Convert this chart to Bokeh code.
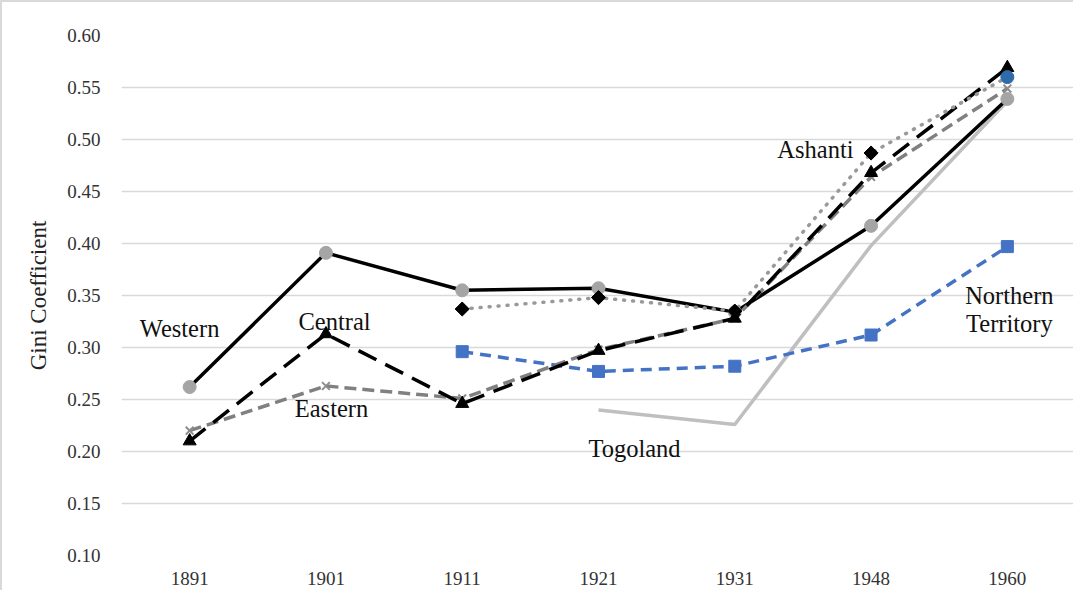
import math
from bokeh.plotting import figure
from bokeh.models import FactorRange, Range1d, FixedTicker, NumeralTickFormatter, Label
from bokeh.embed import file_html
from bokeh.resources import INLINE

years = ["1891", "1901", "1911", "1921", "1931", "1948", "1960"]
western = [0.262, 0.391, 0.355, 0.357, 0.334, 0.417, 0.539]
central = [0.210, 0.313, 0.246, 0.297, 0.328, 0.468, 0.569]
eastern = [0.220, 0.263, 0.251, 0.298, 0.328, 0.464, 0.549]
ashanti_years = ["1911", "1921", "1931", "1948", "1960"]
ashanti = [0.337, 0.348, 0.335, 0.487, 0.560]
northern_years = ["1911", "1921", "1931", "1948", "1960"]
northern = [0.296, 0.277, 0.282, 0.312, 0.397]
togoland_years = ["1921", "1931", "1948", "1960"]
togoland = [0.240, 0.226, 0.398, 0.537]
y_ticks = [0.10, 0.15, 0.20, 0.25, 0.30, 0.35, 0.40, 0.45, 0.50, 0.55, 0.60]

FONT = "Liberation Serif"

p = figure(x_range=FactorRange(*years), y_range=Range1d(0.10, 0.60),
           width=1073, height=590, output_backend="svg", toolbar_location=None,
           min_border_left=119, min_border_right=0, min_border_top=33, min_border_bottom=37)
p.styles = {"border-left": "2px solid #d9d9d9", "border-top": "2px solid #d9d9d9"}
p.outline_line_color = None
p.background_fill_color = "white"
p.border_fill_color = "white"

p.xgrid.grid_line_color = None
p.ygrid.grid_line_color = "#d9d9d9"
p.ygrid.grid_line_width = 1.5
p.yaxis.ticker = FixedTicker(ticks=y_ticks)
p.yaxis.formatter = NumeralTickFormatter(format="0.00")
for ax in (p.xaxis, p.yaxis):
    ax.axis_line_color = None
    ax.major_tick_line_color = None
    ax.minor_tick_line_color = None
    ax.major_label_text_font = FONT
    ax.major_label_text_font_size = "19px"
    ax.major_label_text_color = "#333333"
p.xaxis.major_label_standoff = 10
p.yaxis.major_label_standoff = 15
p.yaxis.axis_label = "Gini Coefficient"
p.yaxis.axis_label_text_font = FONT
p.yaxis.axis_label_text_font_style = "normal"
p.yaxis.axis_label_text_font_size = "23px"
p.yaxis.axis_label_text_color = "#222222"
p.yaxis.axis_label_standoff = 13

# Togoland
p.line(togoland_years, togoland, line_color="#bfbfbf", line_width=3.5)
# Northern Territory
p.line(northern_years, northern, line_color="#4472c4", line_width=3.5, line_dash="11 7")
p.scatter(northern_years, northern, marker="square", size=12, color="#4472c4")
# Western
p.line(years, western, line_color="black", line_width=3.5)
p.scatter(years, western, marker="circle", size=13, color="#a5a5a5")
# Eastern
p.line(years, eastern, line_color="#808080", line_width=3.5, line_dash="12 6")
p.scatter(years, eastern, marker="x", size=11, line_color="#8c8c8c", line_width=2)
# Central
p.line(years, central, line_color="black", line_width=3.5, line_dash="20 10")
p.scatter(years, central, marker="triangle", size=13, color="black")
# Ashanti
p.line(ashanti_years, ashanti, line_color="#999999", line_width=3.5, line_dash="1 8", line_cap="round")
p.scatter(ashanti_years[:-1], ashanti[:-1], marker="square", angle=math.pi / 4, size=10, color="black")
p.scatter(ashanti_years[-1:], ashanti[-1:], marker="circle", size=13, color="#2e6ba8")

labels = [("Western", 0.426, 0.318), ("Central", 1.563, 0.325), ("Eastern", 1.541, 0.241),
          ("Togoland", 3.764, 0.203), ("Ashanti", 5.092, 0.490),
          ("Northern", 6.515, 0.350), ("Territory", 6.515, 0.323)]
for t, x, y in labels:
    p.add_layout(Label(x=x, y=y, text=t, text_font=FONT, text_font_size="24.5px",
                       text_align="center", text_baseline="middle", text_color="#111111"))

open("out.html", "w").write(file_html(p, INLINE))
